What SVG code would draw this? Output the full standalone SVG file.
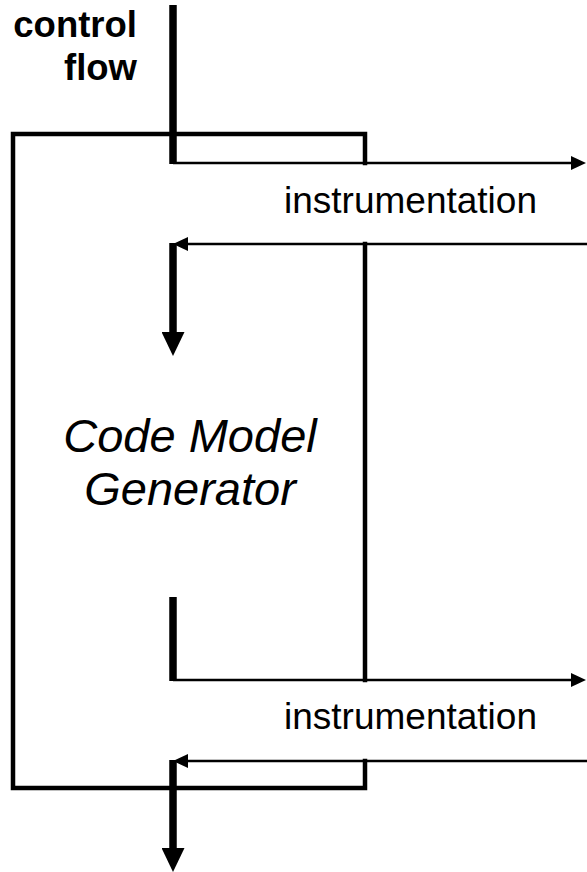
<svg xmlns="http://www.w3.org/2000/svg" width="587" height="872" viewBox="0 0 587 872">
  <style>
    .box { fill: none; stroke: #000; stroke-width: 4.5; stroke-linejoin: miter; stroke-linecap: square; }
    .thin { fill: none; stroke: #000; stroke-width: 2.5; }
    .thick { fill: none; stroke: #000; stroke-width: 7.5; }
    .lbl { font-family: "Liberation Sans", Arial, sans-serif; fill: #000; }
  </style>
  <defs>
    <marker id="arrowThin" markerUnits="userSpaceOnUse" viewBox="0 0 15 14" markerWidth="15" markerHeight="14" refX="8" refY="7" orient="auto">
      <path d="M0,0 L15,7 L0,14 z" fill="#000"/>
    </marker>
    <marker id="arrowThick" markerUnits="userSpaceOnUse" viewBox="0 0 24 23" markerWidth="24" markerHeight="23" refX="12" refY="11.5" orient="auto">
      <path d="M0,0 L24,11.5 L0,23 z" fill="#000"/>
    </marker>
  </defs>

  <!-- Code Model Generator block -->
  <g id="generator">
    <path class="box" d="M365,163 V134 H13 V788 H365 V761"/>
    <path class="box" d="M365,244 V680" stroke-linecap="butt"/>
    <text class="lbl" x="190" y="452" font-size="47" font-style="italic" text-anchor="middle">Code Model</text>
    <text class="lbl" x="190" y="505" font-size="47" font-style="italic" text-anchor="middle">Generator</text>
  </g>

  <!-- control flow label -->
  <g id="control-flow-label">
    <text class="lbl" x="137" y="37" font-size="36.5" font-weight="bold" text-anchor="end">control</text>
    <text class="lbl" x="137" y="80" font-size="36.5" font-weight="bold" text-anchor="end">flow</text>
  </g>

  <!-- instrumentation labels -->
  <g id="instrumentation-top">
    <text class="lbl" x="284" y="213" font-size="37">instrumentation</text>
  </g>
  <g id="instrumentation-bottom">
    <text class="lbl" x="284" y="729" font-size="37">instrumentation</text>
  </g>

  <!-- connectors -->
  <g id="connectors">
    <!-- incoming control flow, handed out to instrumentation -->
    <path class="thick" d="M173,5 V164"/>
    <path class="thin" d="M173,163 H579" marker-end="url(#arrowThin)"/>
    <!-- return from instrumentation, into the generator -->
    <path class="thin" d="M587,244 H180" marker-end="url(#arrowThin)"/>
    <path class="thick" d="M173,243 V344" marker-end="url(#arrowThick)"/>
    <!-- leaving the generator to instrumentation -->
    <path class="thick" d="M173,597 V681"/>
    <path class="thin" d="M173,680 H579" marker-end="url(#arrowThin)"/>
    <!-- return from instrumentation, out of the block -->
    <path class="thin" d="M587,761 H180" marker-end="url(#arrowThin)"/>
    <path class="thick" d="M173,760 V860" marker-end="url(#arrowThick)"/>
  </g>
</svg>
